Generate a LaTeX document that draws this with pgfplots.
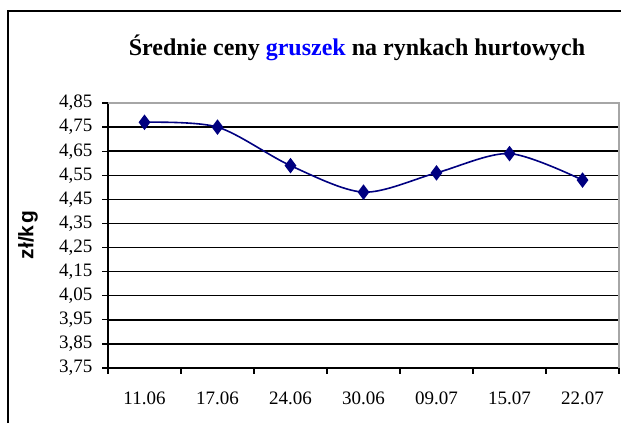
\documentclass[border=0pt]{standalone}
\usepackage{pgfplots}
\pgfplotsset{compat=1.18}
\usepackage{fontspec}
\setmainfont{Liberation Serif}
\setsansfont{Liberation Sans}
\definecolor{navyline}{RGB}{0,0,128}
\definecolor{titleblue}{RGB}{0,0,255}
\begin{document}
\begin{tikzpicture}
\useasboundingbox (0pt,0pt) rectangle (621pt,423pt);
\draw[line width=2pt] (8pt,0pt) -- (8pt,412pt) -- (621pt,412pt);
\begin{axis}[
  at={(108pt,55pt)}, anchor=south west, scale only axis,
  width=511pt, height=265pt,
  xmin=-0.5, xmax=6.5, ymin=3.75, ymax=4.85,
  axis lines*=left,
  axis line style={black, line width=1.5pt},
  tick align=outside,
  xtick={0,1,2,3,4,5,6},
  xticklabels={11.06,17.06,24.06,30.06,09.07,15.07,22.07},
  major x tick style={draw=none},
  minor xtick={-0.5,0.5,1.5,2.5,3.5,4.5,5.5,6.5},
  minor x tick style={black, line width=1.2pt},
  minor tick length=6pt,
  major tick length=6pt,
  ytick={3.75,3.85,3.95,4.05,4.15,4.25,4.35,4.45,4.55,4.65,4.75},
  extra y ticks={4.85},
  extra y tick style={grid=none},
  ymajorgrids,
  major grid style={black, line width=1.5pt},
  y tick style={black, line width=1.2pt},
  ticklabel style={font=\fontsize{19}{19}\selectfont},
  yticklabel style={xshift=-6pt, /pgf/number format/.cd, fixed, fixed zerofill, precision=2, use comma, assume math mode=true},
  xticklabel style={yshift=-14pt},
  clip=false,
]
\draw[gray!70, line width=1.5pt] (rel axis cs:0,1) -- (rel axis cs:1,1) -- (rel axis cs:1,0);
\addplot[navyline, line width=1.6pt, smooth, tension=0.5, mark=diamond*, mark size=6.5pt, mark options={solid, fill=navyline}]
  coordinates {(0,4.77) (1,4.75) (2,4.59) (3,4.48) (4,4.56) (5,4.64) (6,4.53)};
\end{axis}
\node[font=\fontsize{24}{24}\selectfont\bfseries] at (357pt,375pt) {Średnie ceny \textcolor{titleblue}{gruszek} na rynkach hurtowych};
\node[rotate=90, font=\fontsize{21}{21}\selectfont\sffamily\bfseries] at (28pt,188pt) {zł/k\hspace{2pt}g};
\end{tikzpicture}
\end{document}
